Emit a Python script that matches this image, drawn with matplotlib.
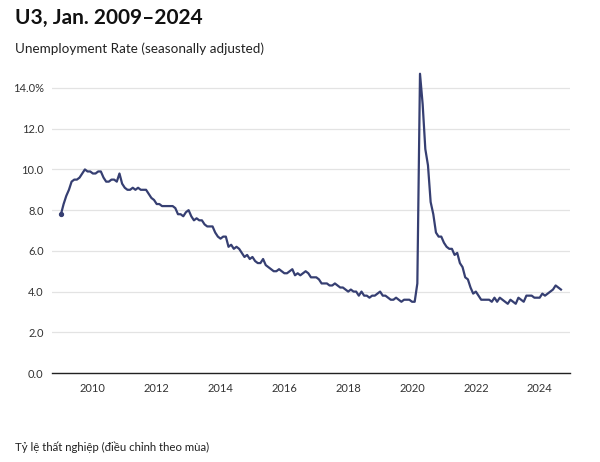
import matplotlib
matplotlib.use("Agg")
import matplotlib.pyplot as plt
import numpy as np

years = list(range(2009, 2025))
rates = {
    2009: [7.8, 8.3, 8.7, 9.0, 9.4, 9.5, 9.5, 9.6, 9.8, 10.0, 9.9, 9.9],
    2010: [9.8, 9.8, 9.9, 9.9, 9.6, 9.4, 9.4, 9.5, 9.5, 9.4, 9.8, 9.3],
    2011: [9.1, 9.0, 9.0, 9.1, 9.0, 9.1, 9.0, 9.0, 9.0, 8.8, 8.6, 8.5],
    2012: [8.3, 8.3, 8.2, 8.2, 8.2, 8.2, 8.2, 8.1, 7.8, 7.8, 7.7, 7.9],
    2013: [8.0, 7.7, 7.5, 7.6, 7.5, 7.5, 7.3, 7.2, 7.2, 7.2, 6.9, 6.7],
    2014: [6.6, 6.7, 6.7, 6.2, 6.3, 6.1, 6.2, 6.1, 5.9, 5.7, 5.8, 5.6],
    2015: [5.7, 5.5, 5.4, 5.4, 5.6, 5.3, 5.2, 5.1, 5.0, 5.0, 5.1, 5.0],
    2016: [4.9, 4.9, 5.0, 5.1, 4.8, 4.9, 4.8, 4.9, 5.0, 4.9, 4.7, 4.7],
    2017: [4.7, 4.6, 4.4, 4.4, 4.4, 4.3, 4.3, 4.4, 4.3, 4.2, 4.2, 4.1],
    2018: [4.0, 4.1, 4.0, 4.0, 3.8, 4.0, 3.8, 3.8, 3.7, 3.8, 3.8, 3.9],
    2019: [4.0, 3.8, 3.8, 3.7, 3.6, 3.6, 3.7, 3.6, 3.5, 3.6, 3.6, 3.6],
    2020: [3.5, 3.5, 4.4, 14.7, 13.2, 11.0, 10.2, 8.4, 7.8, 6.9, 6.7, 6.7],
    2021: [6.4, 6.2, 6.1, 6.1, 5.8, 5.9, 5.4, 5.2, 4.7, 4.6, 4.2, 3.9],
    2022: [4.0, 3.8, 3.6, 3.6, 3.6, 3.6, 3.5, 3.7, 3.5, 3.7, 3.6, 3.5],
    2023: [3.4, 3.6, 3.5, 3.4, 3.7, 3.6, 3.5, 3.8, 3.8, 3.8, 3.7, 3.7],
    2024: [3.7, 3.9, 3.8, 3.9, 4.0, 4.1, 4.3, 4.2, 4.1],
}
y_ticks = [0, 2, 4, 6, 8, 10, 12, 14]
y_labels = ["0.0", "2.0", "4.0", "6.0", "8.0", "10.0", "12.0", "14.0%"]
x_ticks = [2010, 2012, 2014, 2016, 2018, 2020, 2022, 2024]

title = "U3, Jan. 2009\u20132024"
subtitle = "Unemployment Rate (seasonally adjusted)"
footer = "Tỷ lệ thất nghiệp (điều chỉnh theo mùa)"

t = []
v = []
for y in years:
    for m, r in enumerate(rates[y]):
        t.append(y + m / 12.0)
        v.append(r)
t = np.array(t)
v = np.array(v)

fam = ["Lato", "DejaVu Sans"]
plt.rcParams["font.family"] = fam

fig = plt.figure(figsize=(6.0, 4.62), dpi=100)
ax = fig.add_axes([0.0867, 0.1926, 0.8633, 0.661])
color = "#363f72"
ax.plot(t, v, color=color, lw=1.6, solid_joinstyle="round")
ax.plot(t[0], v[0], "o", color=color, ms=2.8)

ax.set_xlim(2008.72, 2024.95)
ax.set_ylim(0, 15)
ax.set_yticks(y_ticks)
ax.set_yticklabels(y_labels)
ax.set_xticks(x_ticks)
ax.set_xticklabels([str(x) for x in x_ticks])
ax.tick_params(axis="both", length=0, labelsize=8, colors="#333333")
ax.tick_params(axis="x", pad=7)
ax.tick_params(axis="y", pad=6)
for lab in ax.get_yticklabels():
    lab.set_horizontalalignment("right")
ax.grid(axis="y", color="#e3e3e3", lw=0.9)
ax.set_axisbelow(True)
for s in ["top", "right", "left"]:
    ax.spines[s].set_visible(False)
ax.spines["bottom"].set_color("#222222")
ax.spines["bottom"].set_linewidth(1.0)

fig.text(0.025, 0.962, title, fontsize=15, fontweight="bold", va="center", ha="left", color="#111111")
fig.text(0.025, 0.895, subtitle, fontsize=9.7, va="center", ha="left", color="#222222")
fig.text(0.025, 0.033, footer, fontsize=8.2, va="center", ha="left", color="#222222", family=fam)

fig.savefig("out.png", dpi=100)
